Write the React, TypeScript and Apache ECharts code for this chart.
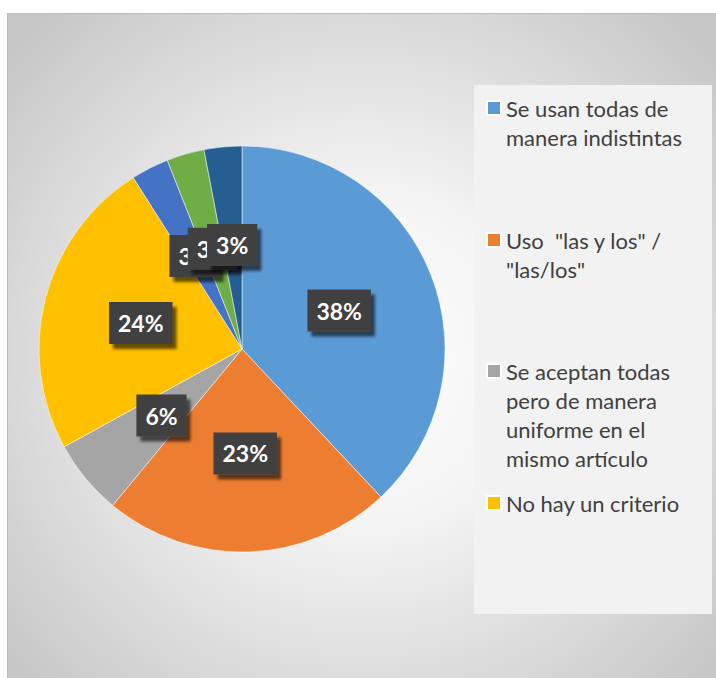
import React, { useEffect, useRef } from "react";
import * as echarts from "echarts";

const categories = [
  "Se usan todas de manera indistintas",
  'Uso  "las y los" / "las/los"',
  "Se aceptan todas pero de manera uniforme en el mismo artículo",
  "No hay un criterio",
  "Otra respuesta A",
  "Otra respuesta B",
  "Otra respuesta C",
];
const legendLabels = [
  "Se usan todas de\nmanera indistintas",
  'Uso  "las y los" /\n"las/los"',
  "Se aceptan todas\npero de manera\nuniforme en el\nmismo artículo",
  "No hay un criterio",
];
const values = [38, 23, 6, 24, 3, 3, 3];
const colors = ["#5B9BD5", "#ED7D31", "#A5A5A5", "#FFC000", "#4472C4", "#70AD47", "#255E91"];

const LH = 29;
const legendCenters = [94, 226, 357, 489];

export default function App() {
  const ref = useRef<HTMLDivElement>(null);
  useEffect(() => {
    if (!ref.current) return;
    const chart = echarts.init(ref.current, null, { renderer: "svg" });
    const legends = legendLabels.map((lbl, i) => {
      const n = lbl.split("\n").length;
      const H = (2 * n - 1) * LH;
      const text = " \n".repeat(n - 1) + lbl;
      return {
        data: [categories[i]],
        orient: "vertical",
        left: 478,
        top: legendCenters[i] - H / 2,
        padding: 0,
        itemWidth: 14,
        itemHeight: 14,
        icon: "rect",
        selectedMode: false,
        formatter: () => text,
        textStyle: {
          color: "#404040",
          fontFamily: "Lato",
          fontSize: 22,
          lineHeight: LH,
        },
      };
    });
    chart.setOption({
      animation: false,
      backgroundColor: "transparent",
      color: colors,
      graphic: [
        {
          type: "rect",
          z: 0,
          shape: { x: 466, y: 71, width: 238, height: 529 },
          style: { fill: "#f2f2f2" },
          silent: true,
        },
      ],
      legend: legends,
      series: [
        {
          type: "pie",
          center: [234, 335],
          radius: [0, 203],
          startAngle: 90,
          clockwise: true,
          silent: true,
          avoidLabelOverlap: false,
          labelLayout: { hideOverlap: false },
          itemStyle: { borderColor: "#ffffff", borderWidth: 0.5 },
          label: {
            show: true,
            position: "inside",
            formatter: (p: any) => Math.round(p.percent) + "%",
            color: "#ffffff",
            fontFamily: "Lato",
            fontWeight: "bold",
            fontSize: 23,
            lineHeight: 28,
            backgroundColor: "#404040",
            padding: [7, 9],
            shadowColor: "rgba(0,0,0,0.6)",
            shadowBlur: 3,
            shadowOffsetX: 4,
            shadowOffsetY: 5,
          },
          labelLine: { show: false },
          emphasis: { disabled: true },
          data: categories.map((name, i) => ({ name, value: values[i] })),
        },
      ],
    });
    return () => chart.dispose();
  }, []);
  return (
    <div
      ref={ref}
      style={{
        position: "absolute",
        left: 7,
        top: 13,
        width: 709,
        height: 665,
        boxSizing: "border-box",
        borderTop: "1px solid #bcbcbc",
        borderLeft: "1px solid #bcbcbc",
        background: "radial-gradient(circle 470px at 50% 52%, #ffffff 0%, #f4f4f4 35%, #c6c6c6 100%)",
      }}
    />
  );
}
